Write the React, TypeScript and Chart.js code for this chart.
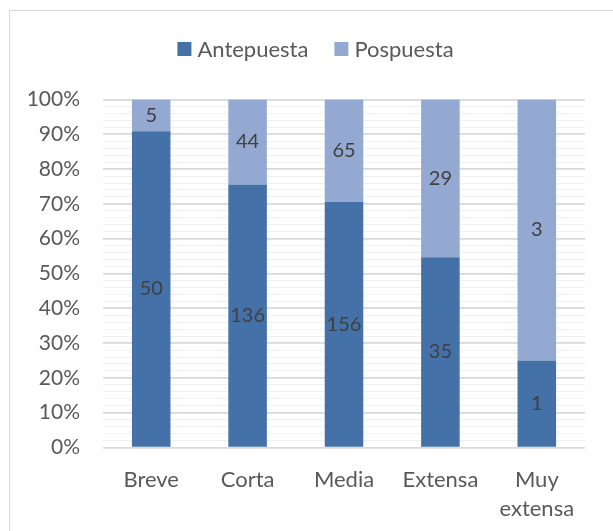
import React, { useEffect, useRef } from "react";
import { Chart, registerables } from "chart.js";

Chart.register(...registerables);

const categories: (string | string[])[] = ["Breve", "Corta", "Media", "Extensa", ["Muy", "extensa"]];
const antepuesta = [50, 136, 156, 35, 1];
const pospuesta = [5, 44, 65, 29, 3];
const seriesNames = ["Antepuesta", "Pospuesta"];
const seriesColors = ["#4472A8", "#94A9D2"];

const FONT = "Lato, 'Liberation Sans', sans-serif";

const totals = antepuesta.map((a, i) => a + pospuesta[i]);
const antePct = antepuesta.map((a, i) => (a / totals[i]) * 100);
const posPct = pospuesta.map((p, i) => (p / totals[i]) * 100);
const rawCounts = [antepuesta, pospuesta];

const labelPlugin = {
  id: "segLabels",
  afterDatasetsDraw(chart: any) {
    const ctx = chart.ctx;
    ctx.save();
    ctx.font = `20px ${FONT}`;
    ctx.fillStyle = "#404040";
    ctx.textAlign = "center";
    ctx.textBaseline = "middle";
    chart.data.datasets.forEach((ds: any, di: number) => {
      const meta = chart.getDatasetMeta(di);
      meta.data.forEach((el: any, i: number) => {
        const y = (el.y + el.base) / 2;
        ctx.fillText(String(rawCounts[di][i]), el.x, y);
      });
    });
    ctx.restore();
  },
};

const legendPlugin = {
  id: "customLegend",
  afterDraw(chart: any) {
    const ctx = chart.ctx;
    ctx.save();
    ctx.font = `22px ${FONT}`;
    const box = 14;
    const gapText = 6;
    const gapItem = 26;
    const names = chart.data.datasets.map((d: any) => d.label);
    const widths = names.map((n: string) => ctx.measureText(n).width);
    let total = 0;
    widths.forEach((w: number, i: number) => {
      total += box + gapText + w + (i < widths.length - 1 ? gapItem : 0);
    });
    const centerX = 315.5;
    const cy = 49;
    let x = centerX - total / 2;
    ctx.textBaseline = "middle";
    ctx.textAlign = "left";
    chart.data.datasets.forEach((d: any, i: number) => {
      ctx.fillStyle = d.backgroundColor;
      ctx.fillRect(x, cy - box / 2, box, box);
      x += box + gapText;
      ctx.fillStyle = "#595959";
      ctx.fillText(names[i], x, cy + 1);
      x += widths[i] + gapItem;
    });
    ctx.restore();
  },
};

export default function App() {
  const ref = useRef<HTMLCanvasElement | null>(null);
  useEffect(() => {
    if (!ref.current) return;
    const chart = new Chart(ref.current, {
      type: "bar",
      data: {
        labels: categories as any,
        datasets: [
          { label: seriesNames[0], data: antePct, backgroundColor: seriesColors[0], borderWidth: 0 },
          { label: seriesNames[1], data: posPct, backgroundColor: seriesColors[1], borderWidth: 0 },
        ],
      },
      options: {
        animation: false,
        responsive: false,
        maintainAspectRatio: false,
        layout: { padding: { top: 99.5, left: 0, right: 28, bottom: 0 } },
        datasets: { bar: { categoryPercentage: 1, barPercentage: 0.4 } },
        plugins: {
          legend: { display: false },
          tooltip: { enabled: false },
        },
        scales: {
          x: {
            stacked: true,
            grid: { display: false, drawTicks: false },
            border: { display: false },
            ticks: {
              color: "#595959",
              font: { family: FONT, size: 22, lineHeight: 1.36 },
              padding: 17,
              maxRotation: 0,
              autoSkip: false,
            },
            afterFit(scale: any) {
              scale.height = 531 - 447.5;
            },
          },
          y: {
            stacked: true,
            min: 0,
            max: 100,
            grid: {
              drawTicks: false,
              color: (c: any) => (Math.round(c.tick.value) % 10 === 0 ? "#D9D9D9" : "#F0F0F0"),
              lineWidth: (c: any) => (Math.round(c.tick.value) % 10 === 0 ? 1.7 : 1),
            },
            border: { display: false },
            ticks: {
              stepSize: 2,
              autoSkip: false,
              color: "#595959",
              font: { family: FONT, size: 21 },
              padding: 23,
              callback: (v: any) => (Math.round(v) % 10 === 0 ? `${v}%` : ""),
            },
            afterFit(scale: any) {
              scale.width = 103;
            },
          },
        },
      },
      plugins: [labelPlugin, legendPlugin],
    });
    return () => chart.destroy();
  }, []);
  return (
    <div style={{ position: "fixed", left: 0, top: 0, width: 613, height: 531, background: "#fff", overflow: "hidden" }}>
      <div
        style={{
          position: "absolute",
          left: 8.5,
          top: 9.5,
          width: 700,
          height: 700,
          borderLeft: "1.5px solid #D9D9D9",
          borderTop: "1.5px solid #D9D9D9",
          boxSizing: "border-box",
        }}
      />
      <canvas ref={ref} width={613} height={531} style={{ position: "absolute", left: 0, top: 0 }} />
    </div>
  );
}
